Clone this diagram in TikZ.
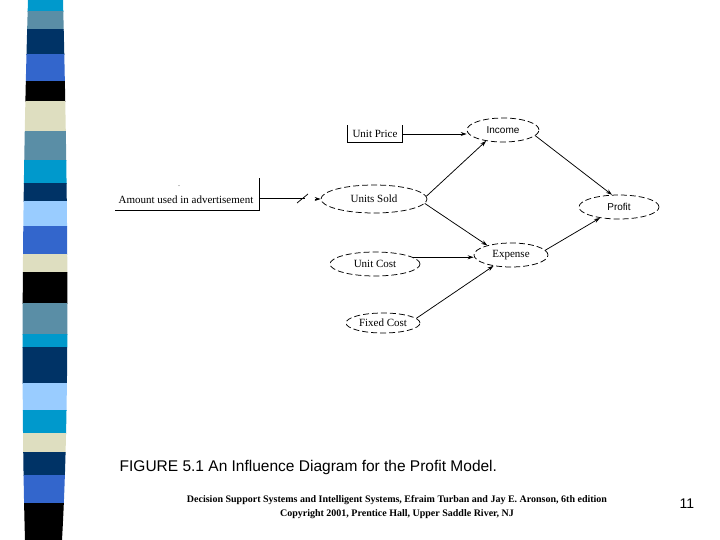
\documentclass[tikz,border=0pt]{standalone}
\usepackage{fontspec}
\setmainfont{Liberation Serif}
\newfontfamily\arial{Liberation Sans}
\usepackage{tikz}
\usetikzlibrary{shapes.geometric,arrows.meta,positioning}
\definecolor{barcyan}{HTML}{0099CC}
\definecolor{barsteel}{HTML}{5A8EA6}
\definecolor{barnavy}{HTML}{003366}
\definecolor{barroyal}{HTML}{3366CC}
\definecolor{barbeige}{HTML}{DEDEC0}
\definecolor{barsky}{HTML}{99CCFF}
\tikzset{
  oval/.style={ellipse,draw,dash pattern=on 6pt off 3pt,inner sep=0pt,font=\fontsize{11}{13}\selectfont},
  ovalsans/.style={oval,font=\arial\fontsize{10}{12}\selectfont},
  lbl/.style={font=\fontsize{11}{13}\selectfont,inner sep=1pt},
  arr/.style={-{Stealth[length=6pt,width=4pt]}}
}

\begin{document}
\begin{tikzpicture}[x=1pt,y=-1pt,line width=0.75pt]
\useasboundingbox (0,0) rectangle (720,540);
% franjas
\begin{scope}
\clip (28,0) .. controls (22,200) and (21,400) .. (25,540) -- (62,540) .. controls (70,400) and (68,200) .. (63,0) -- cycle;
\foreach \ya/\yb/\col in {0/12/barcyan,12/30/barsteel,30/55/barnavy,55/82/barroyal,82/102/black,
  102/132/barbeige,132/161/barsteel,161/184/barcyan,184/202/barnavy,202/227/barsky,227/254/barroyal,
  254/272/barbeige,272/303/black,303/334/barsteel,334/347/barcyan,347/383/barnavy,383/410/barsky,
  410/433/barcyan,433/452/barbeige,452/475/barnavy,475/503/barroyal,503/540/black}{
  \fill[\col] (0,\ya-0.5) rectangle (80,\yb+0.5);}
\end{scope}
% nodos
\node[lbl,minimum height=17,inner xsep=5] (uprice) at (375,134) {Unit Price};
\node[ovalsans,minimum width=72,minimum height=24] (income) at (503,130) {Income};
\node[oval,minimum width=106,minimum height=28] (usold) at (374,199) {Units Sold};
\node[ovalsans,minimum width=80,minimum height=24] (profit) at (619,207) {Profit};
\node[oval,minimum width=74,minimum height=24] (expense) at (511,255) {Expense};
\node[oval,minimum width=90,minimum height=24] (ucost) at (375,264) {Unit Cost};
\node[oval,minimum width=74,minimum height=20] (fcost) at (383,323) {Fixed Cost};
\node[lbl] (amount) at (186,200) {Amount used in advertisement};
\node[font=\tiny] (dots) at (179,186) {..};
% cajas abiertas
\draw (uprice.north west) -- (uprice.south west) -- (uprice.south east) -- (uprice.north east);
\draw (115,210) -- (259,210) -- (259,178);
\coordinate (adv) at (259,198);
% flechas
\draw[arr] (uprice.east) -- (uprice.east -| income.west);
\draw[arr] (usold.3) -- (income.213);
\draw[arr] (usold.355) -- (expense.158);
\draw[arr] (ucost.10) -- (ucost.10 -| expense.west);
\draw[arr] (fcost.8) -- (expense.212);
\draw[arr] (income.350) -- (profit.120);
\draw[arr] (expense.8) -- (profit.210);
\draw (adv) -- ++(46,0);
\draw (308,194) -- (297,203);
\draw[arr] ([xshift=-6]usold.west) -- (usold.west);
% pie
\node[anchor=west,font=\arial\fontsize{15.5}{18}\selectfont] (caption) at (116,467) {FIGURE 5.1 An Influence Diagram for the Profit Model.};
\node[font=\bfseries\fontsize{10}{13.5}\selectfont,align=center] (credit) at (397,507) {Decision Support Systems and Intelligent Systems, Efraim Turban and Jay E. Aronson, 6th edition\\Copyright 2001, Prentice Hall, Upper Saddle River, NJ};
\node[font=\arial\fontsize{14}{16}\selectfont] (pagenum) at (687,504) {11};
\end{tikzpicture}
\end{document}
